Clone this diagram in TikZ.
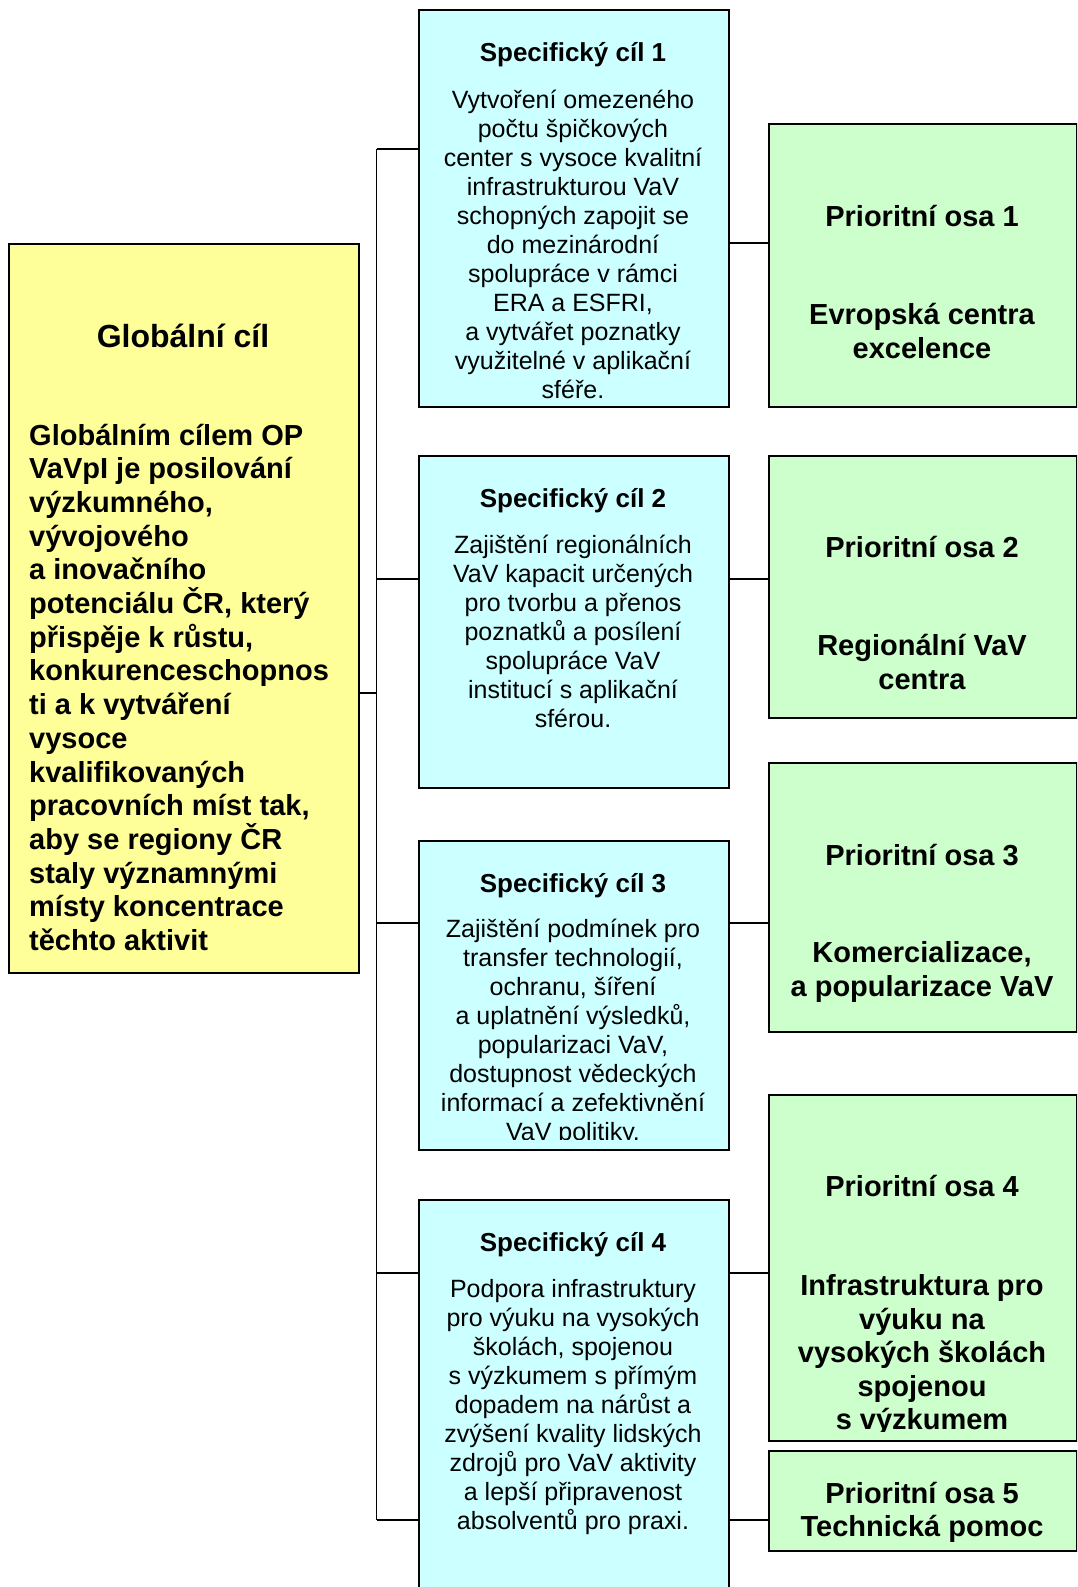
\documentclass[tikz,border=0pt]{standalone}
\usepackage{fontspec}
\setmainfont{Liberation Sans}
\definecolor{gyellow}{HTML}{FFFF99}
\definecolor{scyan}{HTML}{CCFFFF}
\definecolor{pgreen}{HTML}{CCFFCC}
\begin{document}
\begin{tikzpicture}[x=1pt,y=-1pt,
  boxbase/.style={draw=black, line width=2pt, inner sep=0pt, anchor=north west},
  gbox/.style={boxbase, fill=gyellow},
  sbox/.style={boxbase, fill=scyan, minimum width=310pt},
  pbox/.style={boxbase, fill=pgreen, minimum width=308pt},
  conn/.style={draw=black, line width=1.5pt},
  stitle/.style={anchor=base, inner sep=0pt, font=\fontsize{26}{30}\selectfont\bfseries},
  sbody/.style={anchor=base, inner sep=0pt, font=\fontsize{25}{29}\selectfont},
  ptext/.style={anchor=base, inner sep=0pt, font=\fontsize{29}{33.4}\selectfont\bfseries},
  gtitle/.style={anchor=base, inner sep=0pt, font=\fontsize{32}{37}\selectfont\bfseries},
  gbody/.style={anchor=base west, inner sep=0pt, font=\fontsize{29}{33.7}\selectfont\bfseries}
]
\useasboundingbox (0,0) rectangle (1077,1587);
\clip (0,0) rectangle (1077,1587);

% boxes
\node[gbox, minimum width=350pt, minimum height=729pt] (G) at (8,243) {};
\node[sbox, minimum height=397pt] (S1) at (418,9) {};
\node[sbox, minimum height=332pt] (S2) at (418,455) {};
\node[sbox, minimum height=309pt] (S3) at (418,840) {};
\node[sbox, minimum height=420pt] (S4) at (418,1199) {};
\node[pbox, minimum height=283pt] (P1) at (768,123) {};
\node[pbox, minimum height=262pt] (P2) at (768,455) {};
\node[pbox, minimum height=269pt] (P3) at (768,762) {};
\node[pbox, minimum height=346pt] (P4) at (768,1094) {};
\node[pbox, minimum height=100pt] (P5) at (768,1450) {};

% connector coordinates
\coordinate (tG) at (376.5,693);
\coordinate (t1) at (376.5,149);
\coordinate (t2) at (376.5,579);
\coordinate (t3) at (376.5,923);
\coordinate (t4) at (376.5,1273);
\coordinate (t5) at (376.5,1520);
\coordinate (r1) at (748,243);
\coordinate (r2) at (748,579);
\coordinate (r3) at (748,923);
\coordinate (r4) at (748,1273);
\coordinate (r5) at (748,1520);

\draw[conn] (t1) -- (t5);
\draw[conn] (G.east |- tG) -- (tG);
\draw[conn] (t1) -- (S1.west |- t1);
\draw[conn] (t2) -- (S2.west |- t2);
\draw[conn] (t3) -- (S3.west |- t3);
\draw[conn] (t4) -- (S4.west |- t4);
\draw[conn] (t5) -- (S4.west |- t5);
\draw[conn] (S1.east |- r1) -- (P1.west |- r1);
\draw[conn] (S2.east |- r2) -- (P2.west |- r2);
\draw[conn] (S3.east |- r3) -- (P3.west |- r3);
\draw[conn] (S4.east |- r4) -- (P4.west |- r4);
\draw[conn] (S4.east |- r5) -- (P5.west |- r5);

% global text
\node[gtitle] (gt) at (183,347.5) {Globální cíl};
\node[gbody] (gb) at (29,445) {\parbox[t]{325pt}{\raggedright
Globálním cílem OP\\
VaVpI je posilování\\
výzkumného,\\
vývojového\\
a inovačního\\
potenciálu ČR, který\\
přispěje k růstu,\\
konkurenceschopnos\\
ti a k vytváření\\
vysoce\\
kvalifikovaných\\
pracovních míst tak,\\
aby se regiony ČR\\
staly významnými\\
místy koncentrace\\
těchto aktivit}};

% specific goals
\node[stitle] (s1t) at (573,61.5) {Specifický cíl 1};
\begin{scope}
\clip (418,9) rectangle (728,398);
\node[sbody] (s1b) at (573,108.5) {\parbox[t]{300pt}{\centering
Vytvoření omezeného\\
počtu špičkových\\
center s vysoce kvalitní\\
infrastrukturou VaV\\
schopných zapojit se\\
do mezinárodní\\
spolupráce v rámci\\
ERA a ESFRI,\\
a vytvářet poznatky\\
využitelné v aplikační\\
sféře.}};
\end{scope}

\node[stitle] (s2t) at (573,507.5) {Specifický cíl 2};
\node[sbody] (s2b) at (573,553) {\parbox[t]{300pt}{\centering
Zajištění regionálních\\
VaV kapacit určených\\
pro tvorbu a přenos\\
poznatků a posílení\\
spolupráce VaV\\
institucí s aplikační\\
sférou.}};

\node[stitle] (s3t) at (573,892.5) {Specifický cíl 3};
\begin{scope}
\clip (418,840) rectangle (728,1139);
\node[sbody] (s3b) at (573,937) {\parbox[t]{300pt}{\centering
Zajištění podmínek pro\\
transfer technologií,\\
ochranu, šíření\\
a uplatnění výsledků,\\
popularizaci VaV,\\
dostupnost vědeckých\\
informací a zefektivnění\\
VaV politiky.}};
\end{scope}

\node[stitle] (s4t) at (573,1251.5) {Specifický cíl 4};
\node[sbody] (s4b) at (573,1297) {\parbox[t]{300pt}{\centering
Podpora infrastruktury\\
pro výuku na vysokých\\
školách, spojenou\\
s výzkumem s přímým\\
dopadem na nárůst a\\
zvýšení kvality lidských\\
zdrojů pro VaV aktivity\\
a lepší připravenost\\
absolventů pro praxi.}};

% priority axes
\node[ptext] (p1t) at (922,226.5) {\parbox[t]{300pt}{\centering
Prioritní osa 1\\[65pt]
Evropská centra\\
excelence}};
\node[ptext] (p2t) at (922,557.5) {\parbox[t]{300pt}{\centering
Prioritní osa 2\\[65pt]
Regionální VaV\\
centra}};
\node[ptext] (p3t) at (922,865.5) {\parbox[t]{300pt}{\centering
Prioritní osa 3\\[64pt]
Komercializace,\\
a popularizace VaV}};
\begin{scope}
\clip (768,1094) rectangle (1077,1431);
\node[ptext] (p4t) at (922,1196.5) {\parbox[t]{300pt}{\centering
Prioritní osa 4\\[66pt]
Infrastruktura pro\\
výuku na\\
vysokých školách\\
spojenou\\
s výzkumem}};
\end{scope}
\node[ptext] (p5t) at (922,1503.5) {\parbox[t]{300pt}{\centering
Prioritní osa 5\\
Technická pomoc}};
\end{tikzpicture}
\end{document}
